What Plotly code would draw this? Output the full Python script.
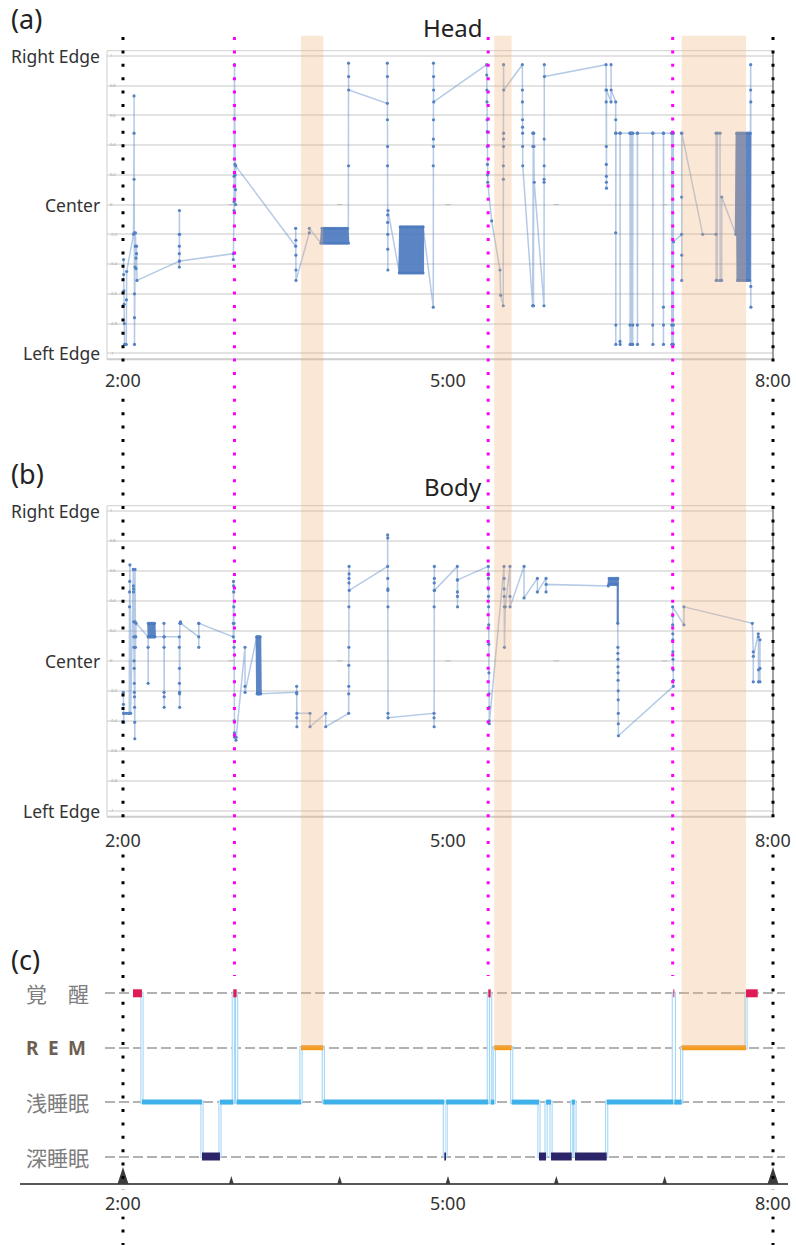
import plotly.graph_objects as go

W, H = 796, 1245

# ---------------- timeline (hours after midnight) ----------------
session_start, session_end = 2.0, 8.0
hour_ticks = [2, 3, 4, 5, 6, 7, 8]
time_label_hours = [2, 5, 8]
time_label_text = ["2:00", "5:00", "8:00"]
awakening_marks = [3.029, 5.371, 7.074]

pos_ticks = [-1, -0.8, -0.6, -0.4, -0.2, 0, 0.2, 0.4, 0.6, 0.8, 1]
pos_ticktext = ["-1", "-0.8", "-0.6", "-0.4", "-0.2", "0", "0.2", "0.4", "0.6", "0.8", "1"]
pos_names = ["Right Edge", "Center", "Left Edge"]
pos_name_vals = [1, 0, -1]

# ---------------- head position (-1 left edge .. 1 right edge) ----------------
head_time = [
    2.005, 2.006, 2.008, 2.010, 2.012, 2.014, 2.030, 2.032, 2.034,
    2.097, 2.102, 2.102, 2.102, 2.104, 2.106, 2.106, 2.106, 2.111, 2.115, 2.115, 2.120, 2.120, 2.125, 2.125, 2.129,
    2.520, 2.520, 2.520, 2.520, 2.520, 2.521, 2.522, 2.522,
    3.018, 3.018, 3.025, 3.025, 3.025, 3.025, 3.029, 3.029, 3.034, 3.034, 3.038, 3.038, 3.040,
    3.594, 3.594, 3.596, 3.596, 3.597, 3.597, 3.720, 3.720,
    3.828, 3.837, 3.846, 3.855, 3.864, 3.873, 3.882, 3.891, 3.900, 3.909, 3.918, 3.927, 3.936, 3.945, 3.954,
    3.963, 3.972, 3.981, 3.990, 3.999, 4.008, 4.017, 4.026, 4.035, 4.044, 4.053, 4.062, 4.071, 4.080,
    4.082, 4.082, 4.083, 4.083, 4.440, 4.440, 4.441, 4.441, 4.442, 4.442, 4.443, 4.443, 4.444, 4.444, 4.445, 4.446,
    4.551, 4.559, 4.568, 4.576, 4.585, 4.593, 4.601, 4.610, 4.618, 4.627, 4.635, 4.643, 4.652, 4.660,
    4.668, 4.677, 4.685, 4.694, 4.702, 4.710, 4.719, 4.727, 4.735, 4.744, 4.752, 4.761, 4.769, 4.770,
    4.864, 4.864, 4.865, 4.865, 4.866, 4.866, 4.867, 4.867, 4.868,
    5.357, 5.358, 5.359, 5.360, 5.361, 5.362, 5.363, 5.364, 5.365, 5.367, 5.403, 5.480, 5.486, 5.510,
    5.511, 5.511, 5.512, 5.512, 5.513, 5.513, 5.514,
    5.686, 5.687, 5.687, 5.688, 5.688, 5.689, 5.689, 5.690,
    5.782, 5.783, 5.784, 5.785, 5.787, 5.789, 5.791, 5.793, 5.796,
    5.886, 5.887, 5.887, 5.888, 5.888, 5.889, 5.890,
    6.459, 6.459, 6.460, 6.461, 6.461, 6.462, 6.462, 6.463, 6.463, 6.505, 6.505, 6.506, 6.548, 6.548,
    6.548, 6.548, 6.549, 6.549, 6.550, 6.588, 6.588, 6.589, 6.589, 6.680, 6.680, 6.681, 6.681, 6.689, 6.690,
    6.698, 6.699, 6.705, 6.705, 6.706, 6.748, 6.748, 6.749, 6.749, 6.890, 6.890, 6.891, 6.891,
    6.988, 6.988, 6.989, 6.989, 6.990, 7.065, 7.065, 7.066, 7.066, 7.072, 7.073, 7.080, 7.080, 7.080, 7.081,
    7.157, 7.157, 7.157, 7.158, 7.158, 7.159, 7.351, 7.474,
    7.474, 7.475, 7.486, 7.487, 7.511, 7.512, 7.526, 7.527,
    7.657, 7.665, 7.673, 7.681, 7.689, 7.697, 7.705, 7.713, 7.721, 7.729, 7.737, 7.745, 7.753, 7.761,
    7.769, 7.777, 7.785, 7.790,
    7.794, 7.794, 7.795, 7.795, 7.796,
]
head_pos = [
    -0.37, -0.47, -0.58, -0.67, -0.80, -0.94, -0.94, -0.64, -0.45,
    -0.20, 0.17, 0.48, 0.73, -0.19, -0.60, -0.76, -0.94, -0.42, -0.28, -0.19, -0.36, -0.43, -0.28, -0.33, -0.51,
    -0.38, -0.42, -0.33, -0.28, -0.20, -0.04, -0.20, -0.38,
    -0.33, -0.37, -0.04, 0.02, 0.12, 0.19, 0.58, 0.94, 0.27, 0.20, 0.10, 0.00, 0.26,
    -0.28, -0.16, -0.24, -0.34, -0.44, -0.51, -0.19, -0.16,
    -0.26, -0.16, -0.26, -0.16, -0.26, -0.16, -0.26, -0.16, -0.26, -0.16, -0.26, -0.16, -0.26, -0.16, -0.26,
    -0.16, -0.26, -0.16, -0.26, -0.16, -0.26, -0.16, -0.26, -0.16, -0.26, -0.16, -0.26, -0.16, -0.26,
    0.26, 0.95, 0.86, 0.77, 0.68, 0.95, 0.86, 0.57, 0.39, 0.26, -0.07, -0.12, -0.20, -0.30, -0.44, -0.04,
    -0.46, -0.15, -0.46, -0.15, -0.46, -0.15, -0.46, -0.15, -0.46, -0.15, -0.46, -0.15, -0.46, -0.15,
    -0.46, -0.15, -0.46, -0.15, -0.46, -0.15, -0.46, -0.15, -0.46, -0.15, -0.46, -0.15, -0.46, -0.15,
    -0.69, 0.26, 0.39, 0.44, 0.57, 0.95, 0.86, 0.77, 0.69,
    0.94, 0.87, 0.77, 0.69, 0.57, 0.49, 0.39, 0.27, 0.20, 0.15, -0.11, -0.44, -0.61, -0.68,
    0.17, 0.26, 0.39, 0.44, 0.48, 0.94, 0.77,
    0.94, 0.77, 0.69, 0.57, 0.52, 0.48, 0.39, 0.26,
    -0.68, 0.48, 0.39, -0.68, 0.48, -0.68, 0.48, 0.39, 0.15,
    -0.68, 0.15, 0.17, 0.26, 0.44, 0.94, 0.86,
    0.94, 0.77, 0.69, 0.39, 0.27, 0.19, 0.15, 0.11, 0.77, 0.69, 0.94, 0.77, 0.69, 0.57,
    0.48, -0.19, -0.81, -0.94, 0.48, 0.48, -0.92, -0.94, 0.48, 0.48, -0.81, -0.94, 0.48, -0.94, 0.48,
    -0.94, 0.48, -0.81, -0.94, 0.48, 0.48, -0.81, -0.94, 0.48, 0.48, -0.81, -0.94, 0.48,
    0.48, -0.69, -0.81, -0.94, 0.48, 0.48, -0.81, -0.94, 0.48, -0.94, 0.48, 0.48, -0.81, -0.94, -0.25,
    -0.20, 0.48, 0.05, -0.34, -0.51, 0.48, -0.20, -0.20,
    0.48, -0.51, -0.51, 0.48, 0.48, -0.51, -0.51, 0.05,
    -0.20, 0.48, -0.51, 0.48, -0.51, 0.48, -0.51, 0.48, -0.51, 0.48, -0.51, 0.48, -0.51, 0.48,
    -0.51, 0.48, -0.51, 0.48,
    0.94, 0.77, 0.69, -0.55, -0.69,
]
# stretches of rapid back-and-forth head motion
head_restless = [(3.828, 4.080), (4.551, 4.770), (7.657, 7.790)]

# ---------------- body position ----------------
body_time = [
    2.003, 2.004, 2.005, 2.006, 2.008, 2.030, 2.050, 2.058, 2.060, 2.061, 2.062, 2.064, 2.071,
    2.095, 2.096, 2.097, 2.098, 2.099, 2.100, 2.101, 2.102, 2.103, 2.104, 2.105, 2.106, 2.107, 2.108,
    2.109, 2.111, 2.112, 2.113, 2.115, 2.118, 2.120,
    2.232, 2.232, 2.232, 2.234, 2.238, 2.242, 2.246, 2.250, 2.254, 2.258, 2.262, 2.266, 2.270, 2.274,
    2.278, 2.282, 2.286, 2.290, 2.294,
    2.378, 2.378, 2.379, 2.379, 2.380, 2.380, 2.381,
    2.520, 2.520, 2.521, 2.521, 2.522, 2.522, 2.523, 2.525, 2.530, 2.533,
    2.699, 2.699, 2.700, 2.700,
    3.018, 3.019, 3.020, 3.021, 3.022, 3.023, 3.024, 3.025, 3.026, 3.028, 3.030, 3.043, 3.045,
    3.126, 3.126, 3.127,
    3.234, 3.238, 3.242, 3.246, 3.250, 3.254, 3.258, 3.262, 3.266, 3.271,
    3.603, 3.603, 3.604, 3.604, 3.605, 3.605, 3.726, 3.726, 3.871, 3.871, 4.083, 4.083, 4.084, 4.084,
    4.085, 4.085, 4.086, 4.086, 4.087, 4.087, 4.088,
    4.443, 4.443, 4.444, 4.444, 4.445, 4.445, 4.446, 4.446, 4.447,
    4.871, 4.871, 4.872, 4.872, 4.873, 4.873, 4.874, 4.874, 4.875,
    5.086, 5.086, 5.087, 5.087, 5.088, 5.088,
    5.372, 5.373, 5.373, 5.374, 5.374, 5.375, 5.376, 5.377, 5.378, 5.379, 5.379, 5.380, 5.381,
    5.517, 5.518, 5.518, 5.519, 5.520, 5.521, 5.529, 5.572, 5.572, 5.573, 5.702, 5.702, 5.825, 5.825,
    5.905, 5.905, 5.906,
    6.480, 6.488, 6.496, 6.504, 6.512, 6.520, 6.528, 6.536, 6.544, 6.552, 6.560, 6.567,
    6.567, 6.568, 6.568, 6.569, 6.569, 6.570, 6.570, 6.571, 6.571, 6.572, 6.572, 6.573,
    7.080, 7.079, 7.078, 7.077, 7.076, 7.075, 7.075, 7.074, 7.074, 7.074, 7.178, 7.178, 7.809,
    7.818, 7.818, 7.819, 7.864, 7.865, 7.866, 7.866, 7.880, 7.880, 7.880,
]
body_pos = [
    -0.21, -0.29, -0.35, -0.41, -0.35, -0.35, -0.35, -0.35, 0.36, 0.46, 0.53, 0.64, -0.35,
    0.61, 0.50, 0.46, 0.48, 0.26, 0.16, 0.09, 0.00, -0.05, -0.15, -0.21, -0.24, -0.31, -0.41,
    -0.52, 0.61, 0.26, 0.16, 0.09, 0.16, 0.25,
    0.16, 0.09, -0.15, 0.25, 0.16, 0.25, 0.16, 0.25, 0.16, 0.25, 0.16, 0.25, 0.16, 0.25,
    0.16, 0.25, 0.16, 0.25, 0.16,
    0.16, 0.25, 0.09, -0.21, -0.24, -0.31, 0.16,
    0.16, 0.09, -0.05, -0.15, -0.21, -0.22, -0.31, 0.25, 0.26, 0.25,
    0.16, 0.25, 0.09, 0.25,
    0.16, 0.25, 0.53, 0.50, 0.46, 0.36, 0.25, 0.09, -0.40, -0.48, -0.51, -0.53, -0.51,
    0.09, -0.17, -0.21,
    0.16, -0.22, 0.16, -0.22, 0.16, -0.22, 0.16, -0.22, 0.16, -0.22,
    -0.21, -0.17, -0.22, -0.38, -0.44, -0.35, -0.35, -0.44, -0.35, -0.44, -0.35, -0.22, -0.17, -0.03,
    0.09, 0.36, 0.52, 0.55, 0.58, 0.63, 0.47,
    0.63, 0.84, 0.82, 0.55, 0.48, 0.47, 0.36, -0.35, -0.38,
    -0.35, -0.38, -0.44, 0.36, 0.47, 0.52, 0.55, 0.63, 0.47,
    0.63, 0.54, 0.46, 0.43, 0.36, 0.54,
    0.63, 0.58, 0.55, 0.48, 0.43, 0.36, 0.24, 0.11, -0.08, -0.22, -0.31, -0.40, -0.42,
    0.63, 0.55, 0.48, 0.43, 0.36, 0.09, 0.36, 0.63, 0.43, 0.36, 0.63, 0.42, 0.55, 0.46,
    0.55, 0.46, 0.51,
    0.50, 0.55, 0.51, 0.55, 0.51, 0.55, 0.51, 0.55, 0.51, 0.55, 0.51, 0.55,
    0.25, 0.09, 0.05, 0.01, -0.04, -0.08, -0.13, -0.20, -0.26, -0.35, -0.42, -0.50,
    -0.17, -0.13, -0.06, 0.01, 0.06, 0.14, 0.18, 0.24, 0.30, 0.36, 0.24, 0.36, 0.25,
    0.06, -0.14, 0.03, 0.18, 0.16, -0.06, -0.14, 0.14, -0.14, -0.05,
]
body_restless = [(2.234, 2.294), (3.234, 3.271), (6.480, 6.567)]

# ---------------- sleep stages (segment start times) ----------------
hyp_start = [2.092, 2.175, 2.729, 2.895, 3.018, 3.049, 3.643, 3.849, 4.966, 4.982, 5.372, 5.394,
             5.427, 5.588, 5.840, 5.905, 5.951, 6.142, 6.172, 6.465, 7.080, 7.089, 7.157, 7.751]
hyp_stage = ["wake", "light", "deep", "light", "wake", "light", "rem", "light", "deep", "light", "wake", "light",
             "rem", "light", "deep", "light", "deep", "light", "deep", "light", "wake", "light", "rem", "wake"]
hyp_end = 7.859

stage_order = ["deep", "light", "rem", "wake"]
stage_labels = ["深睡眠", "浅睡眠", "<b>R\u2002E\u2002M</b>", "覚\u3000醒"]

assert len(head_time) == len(head_pos)
assert len(body_time) == len(body_pos)
assert len(hyp_start) == len(hyp_stage)

# ---------------- page geometry ----------------
PX_T0, PX_T1 = 123, 773  # page x of session start / end


def t_at(px):
    return session_start + (px - PX_T0) * (session_end - session_start) / (PX_T1 - PX_T0)


def xp(px):
    return px / W


def yp(px):
    return 1 - px / H


hours_per_px = (session_end - session_start) / (PX_T1 - PX_T0)

level = {s: i for i, s in enumerate(stage_order)}
stage_color = {"wake": "#de1b55", "rem": "#f29b1d", "light": "#3fb1ea", "deep": "#2c2468"}
stage_width = {"wake": 8, "rem": 5, "light": 5, "deep": 8}

Y3_DOM = [yp(1190), yp(960)]
Y3_RANGE = [(1156.5 - 1190) / 54.4, (1156.5 - 960) / 54.4]

FONT = "Noto Sans, sans-serif"
CJK = "Noto Sans CJK JP, sans-serif"


def within(times, values, spans):
    """Keep only the samples inside the given time spans (gaps elsewhere)."""
    xs, ys = [], []
    for t, v in zip(times, values):
        if any(a <= t <= b for a, b in spans):
            xs.append(t)
            ys.append(v)
        elif xs and xs[-1] is not None:
            xs.append(None)
            ys.append(None)
    return xs, ys


fig = go.Figure()

# position panels
for t, v, spans, xa, ya in [(head_time, head_pos, head_restless, "x", "y"),
                            (body_time, body_pos, body_restless, "x2", "y2")]:
    fig.add_trace(go.Scatter(
        x=t, y=v, mode="lines+markers", xaxis=xa, yaxis=ya, hoverinfo="skip",
        line=dict(color="rgba(92,138,200,0.45)", width=1.5),
        marker=dict(size=3.2, color="#5582c3"),
    ))
    dx, dy = within(t, v, spans)
    fig.add_trace(go.Scatter(
        x=dx, y=dy, mode="lines", xaxis=xa, yaxis=ya, hoverinfo="skip",
        line=dict(color="rgba(74,120,189,0.85)", width=2.2),
    ))
    fig.add_trace(go.Scatter(
        x=hour_ticks[1:-1], y=[0] * (len(hour_ticks) - 2), mode="markers", xaxis=xa, yaxis=ya,
        hoverinfo="skip", marker=dict(symbol="line-ew", size=4, line=dict(width=1, color="#bdbdbd")),
    ))

# hypnogram: outlined step line, then stage bars on top
step_x = hyp_start + [hyp_end]
step_y = [level[s] for s in hyp_stage] + [level[hyp_stage[-1]]]
fig.add_trace(go.Scatter(x=step_x, y=step_y, mode="lines", line_shape="hv", xaxis="x3", yaxis="y3",
                         hoverinfo="skip", line=dict(color="#9fd5f5", width=3.2)))
fig.add_trace(go.Scatter(x=step_x, y=step_y, mode="lines", line_shape="hv", xaxis="x3", yaxis="y3",
                         hoverinfo="skip", line=dict(color="white", width=1.1)))
seg_end = hyp_start[1:] + [hyp_end]
for stage in ["light", "rem", "deep", "wake"]:
    xs, ys = [], []
    for s, e, st in zip(hyp_start, seg_end, hyp_stage):
        if st == stage:
            xs += [s, e, None]
            ys += [level[st], level[st], None]
    fig.add_trace(go.Scatter(x=xs, y=ys, mode="lines", xaxis="x3", yaxis="y3", hoverinfo="skip",
                             line=dict(color=stage_color[stage], width=stage_width[stage])))

# full-page overlay axis
fig.add_trace(go.Scatter(x=[None], y=[None], xaxis="x4", yaxis="y4", hoverinfo="skip"))

shapes = []
# frames of the position panels
for xa, ya in [("x", "y"), ("x2", "y2")]:
    xd, yd = xa + " domain", ya + " domain"
    shapes += [
        dict(type="line", xref=xd, yref=yd, x0=0, x1=1, y0=1, y1=1, line=dict(color="#cfcfcf", width=1)),
        dict(type="line", xref=xd, yref=yd, x0=0, x1=1, y0=0, y1=0, line=dict(color="#cccccc", width=2)),
        dict(type="line", xref=xd, yref=yd, x0=0, x1=0, y0=0, y1=1, line=dict(color="#cfcfcf", width=1)),
        dict(type="line", xref=xd, yref=yd, x0=1, x1=1, y0=0, y1=1, line=dict(color="#444444", width=1)),
    ]

# REM bands from the hypnogram
rem_paper = Y3_DOM[0] + (level["rem"] - Y3_RANGE[0]) / (Y3_RANGE[1] - Y3_RANGE[0]) * (Y3_DOM[1] - Y3_DOM[0])
for s, e, st in zip(hyp_start, seg_end, hyp_stage):
    if st == "rem":
        shapes.append(dict(type="rect", xref="x4", yref="paper", x0=s, x1=e, y0=rem_paper, y1=yp(35.7),
                           fillcolor="rgba(242,175,118,0.3)", line=dict(width=0), layer="above"))

# time axis of the hypnogram
shapes.append(dict(type="line", xref="paper", yref="paper", x0=xp(20), x1=xp(788), y0=yp(1184), y1=yp(1184),
                   line=dict(color="#585858", width=2)))
for h in hour_ticks:
    big = h in (session_start, session_end)
    half = (5.5 if big else 2.4) * hours_per_px
    top = yp(1167 if big else 1176)
    base = yp(1184)
    shapes.append(dict(type="path", xref="x4", yref="paper",
                       path=f"M {h - half},{base} L {h + half},{base} L {h},{top} Z",
                       fillcolor="#3c3c3c", line=dict(width=0)))

# session bounds and awakening markers
for t in [session_start, session_end]:
    shapes.append(dict(type="line", xref="x4", yref="paper", x0=t, x1=t, y0=yp(37), y1=yp(H),
                       line=dict(color="black", width=3, dash="3px,10.4px"), layer="above"))
for t in awakening_marks:
    shapes.append(dict(type="line", xref="x4", yref="paper", x0=t, x1=t, y0=yp(37), y1=yp(976),
                       line=dict(color="#ff00ff", width=3, dash="3px,10.4px"), layer="above"))

ann = []
for txt, y in [("(a)", 19), ("(b)", 473), ("(c)", 959)]:
    ann.append(dict(text=txt, xref="paper", yref="paper", x=xp(9), y=yp(y), xanchor="left", yanchor="middle",
                    showarrow=False, font=dict(family=FONT, size=27, color="#222")))
for txt, y in [("Head", 28), ("Body", 487)]:
    ann.append(dict(text=txt, xref="paper", yref="paper", x=xp(453), y=yp(y), xanchor="center", yanchor="middle",
                    showarrow=False, font=dict(family=FONT, size=24, color="#222")))
for ya in ["y", "y2"]:
    for txt, v in zip(pos_names, pos_name_vals):
        ann.append(dict(text=txt, xref="paper", yref=ya, x=xp(102), y=v, xanchor="right", yanchor="middle",
                        showarrow=False, font=dict(family=FONT, size=17.5, color="#333")))
for y in [380, 840, 1203]:
    for h, txt in zip(time_label_hours, time_label_text):
        ann.append(dict(text=txt, xref="x4", yref="paper", x=h, y=yp(y), xanchor="center", yanchor="middle",
                        showarrow=False, bgcolor="white", borderpad=1,
                        font=dict(family=FONT, size=18, color="#333")))
for st, txt in zip(stage_order, stage_labels):
    is_rem = st == "rem"
    ann.append(dict(text=txt, xref="paper", yref="y3", x=xp(24), y=level[st], xanchor="left", yanchor="middle",
                    showarrow=False,
                    font=dict(family=FONT if is_rem else CJK, size=19 if is_rem else 21,
                              color="#6e5f52" if is_rem else "#7d7d7d")))


def pos_yaxis(dom, rng, anchor):
    return dict(domain=dom, range=rng, anchor=anchor, tickvals=pos_ticks, ticktext=pos_ticktext,
                showgrid=True, gridcolor="#e3e3e3", gridwidth=1.5, zeroline=False, showline=False,
                ticks="", ticklabelposition="inside", tickfont=dict(size=4, color="#9a9a9a"), fixedrange=True)


fig.update_layout(
    width=W, height=H, margin=dict(l=0, r=0, t=0, b=0),
    paper_bgcolor="white", plot_bgcolor="rgba(0,0,0,0)", showlegend=False,
    xaxis=dict(domain=[xp(107), xp(773)], range=[t_at(107), t_at(773)], visible=False, anchor="y"),
    yaxis=pos_yaxis([yp(359.3), yp(50.7)], [-1.040, 1.034], "x"),
    xaxis2=dict(domain=[xp(107), xp(773)], range=[t_at(107), t_at(773)], visible=False, anchor="y2"),
    yaxis2=pos_yaxis([yp(816.7), yp(505.7)], [-1.040, 1.035], "x2"),
    xaxis3=dict(domain=[xp(105), xp(785)], range=[t_at(105), t_at(785)], visible=False, anchor="y3"),
    yaxis3=dict(domain=Y3_DOM, range=Y3_RANGE, anchor="x3", tickvals=[0, 1, 2, 3], showticklabels=False,
                showgrid=True, griddash="10px,4px", gridcolor="#b2b2b2", gridwidth=1.5, zeroline=False,
                showline=False, ticks=""),
    xaxis4=dict(domain=[0, 1], range=[t_at(0), t_at(W)], visible=False, anchor="y4"),
    yaxis4=dict(domain=[0, 1], range=[0, 1], visible=False, anchor="x4"),
    shapes=shapes, annotations=ann,
)

fig.write_html("out.html", config={"displayModeBar": False})
